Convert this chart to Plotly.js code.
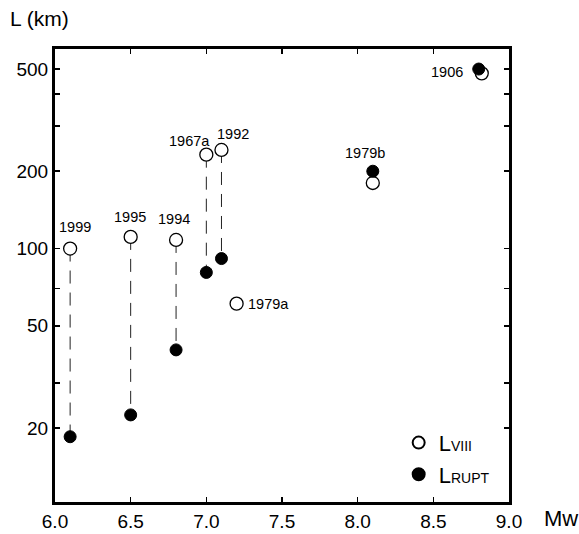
<!DOCTYPE html>
<html>
<head>
<meta charset="utf-8">
<script src="https://cdn.plot.ly/plotly-3.0.1.min.js"></script>
<style>html,body{margin:0;padding:0;background:#fff;}#chart{width:579px;height:534px;}</style>
</head>
<body>
<div id="chart"></div>
<script>
// ---- data ----
const events   = ['1999', '1995', '1994', '1967a', '1992', '1979a', '1979b', '1906'];
const mwViii   = [6.1, 6.5, 6.8, 7.0, 7.1, 7.2, 8.1, 8.82];
const lViii    = [100, 111, 108, 232, 242, 61, 180, 481];
const mwRupt   = [6.1, 6.5, 6.8, 7.0, 7.1, null, 8.1, 8.8];
const lRupt    = [18.5, 22.5, 40.3, 80.7, 91.4, null, 200, 500];
const dashedPairs = ['1999', '1995', '1994', '1967a', '1992'];
const xTicks   = [6.0, 6.5, 7.0, 7.5, 8.0, 8.5, 9.0];
const yTicks   = [20, 30, 50, 70, 100, 200, 300, 400, 500];
const yTickText = ['20', '', '50', '', '100', '200', '', '', '500'];

// ---- label placement (styling) ----
const labelStyle = {
  '1999':  {xs: 5,   ys: 22, xa: 'center'},
  '1995':  {xs: -1,  ys: 20, xa: 'center'},
  '1994':  {xs: -2,  ys: 21, xa: 'center'},
  '1967a': {xs: -17, ys: 14, xa: 'center'},
  '1992':  {xs: 12,  ys: 16, xa: 'center'},
  '1979a': {xs: 9,   ys: 0,  xa: 'left'},
  '1979b': {xs: -8,  ys: 30, xa: 'center'},
  '1906':  {xs: -17, ys: 1,  xa: 'right'}
};

const FONT = 'Liberation Sans, Arial, Helvetica, sans-serif';

// dashed connectors built from data
const lx = [], ly = [];
dashedPairs.forEach(function (name) {
  const i = events.indexOf(name);
  lx.push(mwViii[i], mwRupt[i], null);
  ly.push(lViii[i], lRupt[i], null);
});

const traces = [
  {
    x: lx, y: ly, mode: 'lines', showlegend: false, hoverinfo: 'skip',
    line: {color: '#222', width: 1, dash: '13px,9px'}
  },
  {
    x: mwViii, y: lViii, mode: 'markers', name: 'L<span style="font-size:14px">VIII</span>',
    marker: {symbol: 'circle', size: 13, color: '#ffffff', line: {color: '#000', width: 1.3}}
  },
  {
    x: mwRupt, y: lRupt, mode: 'markers', name: 'L<span style="font-size:14px">RUPT</span>',
    marker: {symbol: 'circle', size: 12, color: '#000000', line: {color: '#000', width: 1}}
  }
];

const annotations = events.map(function (name, i) {
  const s = labelStyle[name];
  return {
    x: mwViii[i], y: Math.log10(lViii[i]), xref: 'x', yref: 'y',
    text: name, showarrow: false, xanchor: s.xa, yanchor: 'middle',
    xshift: s.xs, yshift: s.ys,
    font: {family: FONT, size: 14.5, color: '#000'}
  };
});
annotations.push({
  xref: 'paper', yref: 'paper', x: -0.1035, y: 1.068, xanchor: 'left', yanchor: 'middle',
  text: 'L (km)', showarrow: false, font: {family: FONT, size: 21, color: '#000'}
});
annotations.push({
  xref: 'paper', yref: 'paper', x: 1.0727, y: -0.036, xanchor: 'left', yanchor: 'middle',
  text: 'Mw', showarrow: false, font: {family: FONT, size: 22, color: '#000'}
});

const layout = {
  width: 579, height: 534,
  margin: {l: 55, r: 70, t: 49, b: 32, pad: 0},
  paper_bgcolor: '#fff', plot_bgcolor: '#fff',
  font: {family: FONT, color: '#000'},
  xaxis: {
    range: [6.0, 9.0], tickvals: xTicks, tickformat: '.1f',
    showgrid: false, zeroline: false,
    showline: true, linecolor: '#000', linewidth: 3, mirror: 'ticks',
    ticks: 'inside', ticklen: 5, tickwidth: 1.5, tickcolor: '#000',
    tickfont: {family: FONT, size: 19, color: '#000'}
  },
  yaxis: {
    type: 'log', range: [1.013, 2.777], tickvals: yTicks, ticktext: yTickText,
    showgrid: false, zeroline: false,
    showline: true, linecolor: '#000', linewidth: 3, mirror: 'ticks',
    ticks: 'inside', ticklen: 5, tickwidth: 1.5, tickcolor: '#000',
    tickfont: {family: FONT, size: 19, color: '#000'}
  },
  showlegend: true,
  legend: {
    x: 0.757, y: 0.177, xanchor: 'left', yanchor: 'top',
    bgcolor: 'rgba(0,0,0,0)', borderwidth: 0,
    font: {family: FONT, size: 22, color: '#000'},
    itemsizing: 'constant', tracegroupgap: 0
  },
  annotations: annotations
};

Plotly.newPlot('chart', traces, layout, {staticPlot: true});
</script>
</body>
</html>
